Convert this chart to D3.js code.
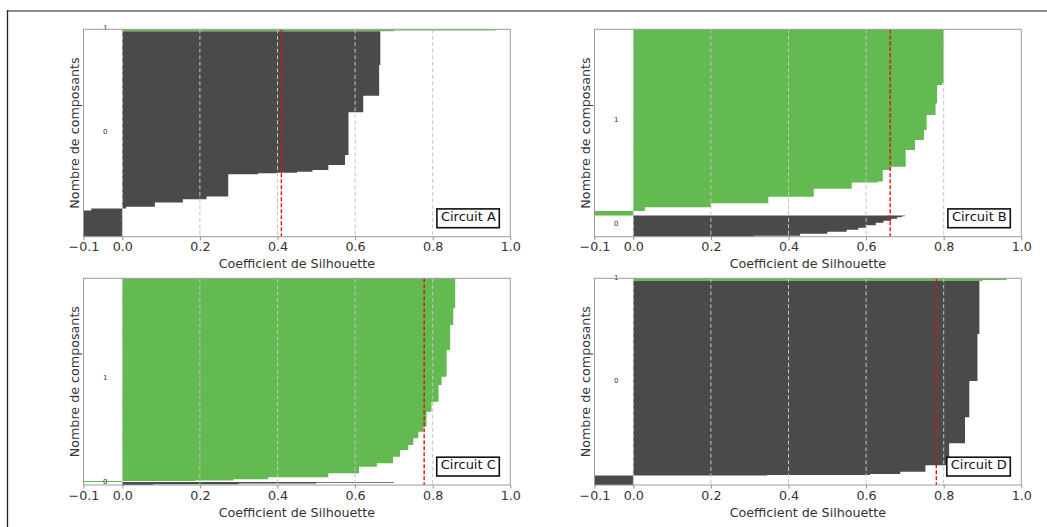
<!DOCTYPE html>
<html><head><meta charset="utf-8">
<script src="https://cdn.jsdelivr.net/npm/d3@7"></script>
<style>
html,body{margin:0;padding:0;background:#fff;}
svg{display:block;font-family:"DejaVu Sans",sans-serif;}
</style></head>
<body><svg id="c" width="1047" height="527"></svg>
<script>
// ---------- data (silhouette values, sorted ascending within each cluster; counts = samples per step) ----------
const xTicks = [-0.1, 0.0, 0.2, 0.4, 0.6, 0.8, 1.0];
const xTickLabels = ["\u22120.1", "0.0", "0.2", "0.4", "0.6", "0.8", "1.0"];
const circuitNames = ["Circuit A", "Circuit B", "Circuit C", "Circuit D"];
const averages = [0.41, 0.662, 0.778, 0.781];

const A0values = [-0.1, -0.08, 0.01, 0.084, 0.156, 0.217, 0.273, 0.35, 0.40, 0.45, 0.49, 0.531, 0.574, 0.583, 0.621, 0.662, 0.665];
const A0counts = [262, 20, 18, 42, 33, 27, 222, 10, 6, 10, 17, 50, 100, 427, 166, 307, 337];
const A1values = [0.70, 0.962];
const A1counts = [7, 13];

const B0values = [0.31, 0.43, 0.50, 0.55, 0.58, 0.60, 0.625, 0.645, 0.665, 0.68, 0.692, 0.70];
const B0counts = [10, 20, 20, 20, 20, 25, 25, 20, 20, 15, 10, 8];
const B1values = [-0.1, 0.03, 0.20, 0.348, 0.465, 0.563, 0.63, 0.643, 0.665, 0.702, 0.726, 0.749, 0.756, 0.779, 0.783, 0.796, 0.80];
const B1counts = [44, 37, 40, 66, 79, 63, 10, 115, 33, 167, 100, 100, 150, 115, 185, 20, 537];

const C0values = [0.08, 0.3, 0.5, 0.7];
const C0counts = [8, 8, 7, 7];
const C1values = [-0.1, 0.187, 0.286, 0.376, 0.531, 0.61, 0.656, 0.698, 0.716, 0.737, 0.75, 0.763, 0.776, 0.784, 0.797, 0.815, 0.823, 0.836, 0.845, 0.853, 0.858];
const C1counts = [10, 5, 12, 20, 40, 66, 34, 66, 67, 50, 67, 66, 50, 150, 100, 167, 83, 267, 250, 167, 300];

const D0values = [-0.1, 0.345, 0.61, 0.688, 0.753, 0.814, 0.855, 0.866, 0.887, 0.892];
const D0counts = [95, 5, 10, 23, 64, 220, 260, 363, 470, 530];
const D1values = [0.90, 0.962];
const D1counts = [10, 17];

const clusterColors = ["#4a4a4a", "#62ba50"];

// ---------- layout ----------
const svg = d3.select("#c");
const W = 426.8;
const lefts = [83.5, 594.5];
const tops = [29.3, 278.3];
const heights = [207.4, 206.7];

// outer frame
svg.append("line").attr("x1", 7).attr("x2", 1047).attr("y1", 11).attr("y2", 11)
  .attr("stroke", "#8c8c8c").attr("stroke-width", 2);
svg.append("line").attr("x1", 7.5).attr("x2", 7.5).attr("y1", 10).attr("y2", 527)
  .attr("stroke", "#222").attr("stroke-width", 1.3);

const panels = [
  {clusters: [[A0values, A0counts], [A1values, A1counts]], col: 0, row: 0},
  {clusters: [[B0values, B0counts], [B1values, B1counts]], col: 1, row: 0},
  {clusters: [[C0values, C0counts], [C1values, C1counts]], col: 0, row: 1},
  {clusters: [[D0values, D0counts], [D1values, D1counts]], col: 1, row: 1}
];

panels.forEach((p, pi) => {
  const left = lefts[p.col], top = tops[p.row], H = heights[p.row];
  const right = left + W, bottom = top + H;
  const total = d3.sum(p.clusters, c => d3.sum(c[1]));
  const x = d3.scaleLinear().domain([-0.1, 1.0]).range([left, right]);
  const y = d3.scaleLinear().domain([0, total]).range([bottom, top]);
  const g = svg.append("g");
  const clipId = "clip" + pi;
  g.append("clipPath").attr("id", clipId).append("rect")
    .attr("x", left).attr("y", top).attr("width", W).attr("height", H);
  const plot = g.append("g").attr("clip-path", `url(#${clipId})`);

  let cum = 0;
  p.clusters.forEach((c, ci) => {
    const [vals, cnts] = c;
    const start = cum;
    const pts = [];
    vals.forEach((v, i) => {
      pts.push({p: cum, v: v});
      cum += cnts[i];
      pts.push({p: cum, v: v});
    });
    const area = d3.area().y(d => y(d.p)).x0(x(0)).x1(d => x(d.v));
    plot.append("path").attr("d", area(pts)).attr("fill", clusterColors[ci]);
    g.append("text").attr("x", x(-0.05)).attr("y", y(start + (cum - start) / 2))
      .attr("font-size", 7).attr("fill", "#333").text(String(ci));
  });

  // grid
  plot.selectAll("line.grid").data(xTicks.filter(t => t > -0.1 && t < 1.0)).enter().append("line")
    .attr("x1", d => x(d)).attr("x2", d => x(d)).attr("y1", top).attr("y2", bottom)
    .attr("stroke", "#c4c4c4").attr("stroke-width", 1).attr("stroke-dasharray", "4,2.5");

  // average line
  plot.append("line").attr("x1", x(averages[pi])).attr("x2", x(averages[pi]))
    .attr("y1", top).attr("y2", bottom)
    .attr("stroke", "#e01010").attr("stroke-width", 1.4).attr("stroke-dasharray", "4,2");

  // spines
  g.append("rect").attr("x", left).attr("y", top).attr("width", W).attr("height", H)
    .attr("fill", "none").attr("stroke", "#9a9a9a").attr("stroke-width", 1);

  // x axis
  const ax = d3.axisBottom(x).tickValues(xTicks).tickFormat((d, i) => xTickLabels[i])
    .tickSizeInner(3.5).tickSizeOuter(0).tickPadding(2);
  const axg = g.append("g").attr("transform", `translate(0,${bottom})`).call(ax);
  axg.select(".domain").remove();
  axg.selectAll(".tick line").attr("stroke", "#777").attr("stroke-width", 0.8);
  axg.selectAll(".tick text").attr("font-size", 12.7).attr("fill", "#333")
    .attr("font-family", "DejaVu Sans");

  g.append("text").attr("x", (left + right) / 2).attr("y", bottom + 31.5)
    .attr("text-anchor", "middle").attr("font-size", 12.7).attr("fill", "#333")
    .text("Coefficient de Silhouette");
  g.append("text").attr("transform", `translate(${left - 5},${(top + bottom) / 2}) rotate(-90)`)
    .attr("text-anchor", "middle").attr("font-size", 12.7).attr("fill", "#333")
    .text("Nombre de composants");

  // legend box
  const tb = right - 14.5, by = bottom - 16;
  const box = g.append("rect");
  const t = g.append("text").attr("x", tb).attr("y", by).attr("text-anchor", "end")
    .attr("font-size", 13).attr("fill", "#111").text(circuitNames[pi]);
  const tw = t.node().getComputedTextLength();
  box.attr("x", tb - tw - 4).attr("y", by - 11.8)
    .attr("width", tw + 7.5).attr("height", 18.8)
    .attr("fill", "#fff").attr("stroke", "#111").attr("stroke-width", 1.6);
});
</script></body></html>
